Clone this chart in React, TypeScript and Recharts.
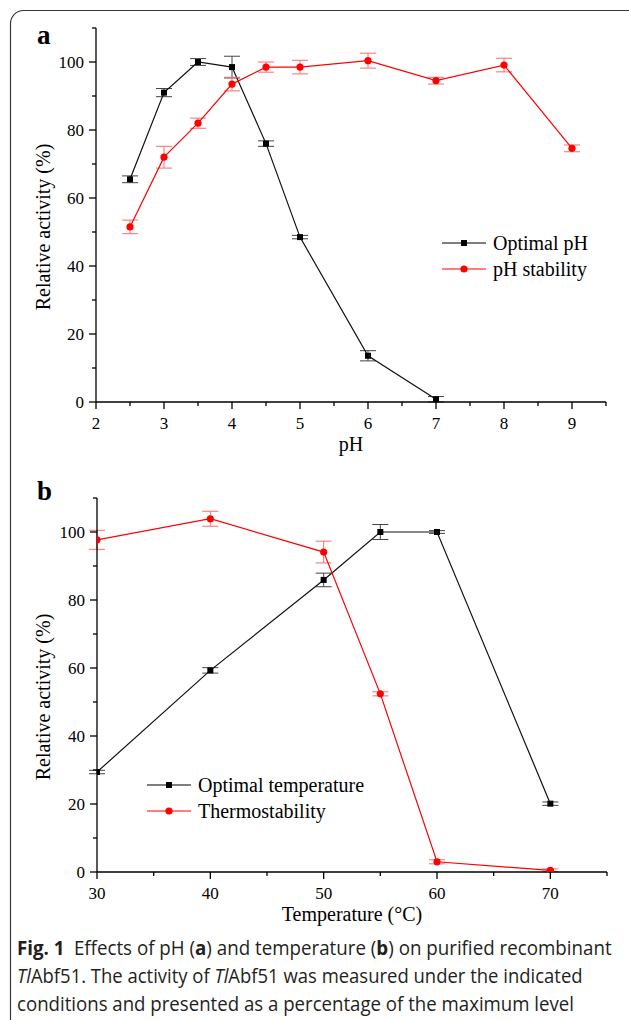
import React, { useLayoutEffect, useRef, useState } from "react";
import { LineChart, Line, XAxis, YAxis, ErrorBar, Legend } from "recharts";

// panel a: pH
const phOptimalX = [2.5, 3, 3.5, 4, 4.5, 5, 6, 7];
const phOptimalY = [65.5, 91, 100, 98.5, 76, 48.5, 13.6, 0.8];
const phOptimalErr = [1, 1.2, 1, 3.2, 0.8, 0.5, 1.5, 0.8];

const phStabX = [2.5, 3, 3.5, 4, 4.5, 5, 6, 7, 8, 9];
const phStabY = [51.5, 72, 82, 93.5, 98.5, 98.5, 100.4, 94.5, 99.1, 74.6];
const phStabErr = [2, 3.2, 1.5, 2, 1.5, 2, 2.2, 1, 2, 1];

const phTicks = [2, 2.5, 3, 3.5, 4, 4.5, 5, 5.5, 6, 6.5, 7, 7.5, 8, 8.5, 9, 9.5];
const phLabels = [2, 3, 4, 5, 6, 7, 8, 9];

// panel b: temperature
const tempOptimalX = [30, 40, 50, 55, 60, 70];
const tempOptimalY = [29.4, 59.3, 85.9, 100, 100, 20.1];
const tempOptimalErr = [0.5, 0.8, 2, 2.2, 0.4, 0.5];

const thermoX = [30, 40, 50, 55, 60, 70];
const thermoY = [97.7, 103.9, 94.1, 52.4, 3.0, 0.5];
const thermoErr = [2.8, 2.2, 3.2, 0.6, 0.6, 0.4];

const tempTicks = [30, 35, 40, 45, 50, 55, 60, 65, 70, 75];
const tempLabels = [30, 40, 50, 60, 70];

const yTicks = [0, 10, 20, 30, 40, 50, 60, 70, 80, 90, 100, 110];
const yLabels = [0, 20, 40, 60, 80, 100];

const SERIF = "'Liberation Serif', 'Times New Roman', serif";
const SANS = "'Open Sans', 'Noto Sans', sans-serif";
const RED = "#ff0000";

const serifStyle = (size: number) => ({ fontFamily: SERIF, fontSize: size });

const toRows = (xs: number[], ys: number[], errs: number[]) =>
  xs.map((x, i) => ({ x, y: ys[i], err: errs[i] }));

const XTick = (props: any, labels: number[]) => {
  const { x, y, payload } = props;
  const major = labels.includes(payload.value);
  return (
    <g key={payload.value}>
      <line x1={x} y1={y} x2={x} y2={y + (major ? 7 : 4)} stroke="#000" strokeWidth={1.3} />
      {major && (
        <text x={x} y={y + 27} textAnchor="middle" style={serifStyle(17)} fill="#000">
          {payload.value}
        </text>
      )}
    </g>
  );
};

const YTick = (props: any) => {
  const { x, y, payload } = props;
  const major = yLabels.includes(payload.value);
  return (
    <g key={payload.value}>
      <line x1={x} y1={y} x2={x - (major ? 7 : 4)} y2={y} stroke="#000" strokeWidth={1.3} />
      {major && (
        <text x={x - 12} y={y + 6} textAnchor="end" style={serifStyle(17)} fill="#000">
          {payload.value}
        </text>
      )}
    </g>
  );
};

const squareDot = (p: any) => (
  <rect key={p.index} x={p.cx - 3} y={p.cy - 3} width={6} height={6} fill="#000" />
);
const circleDot = (p: any) => <circle key={p.index} cx={p.cx} cy={p.cy} r={3.6} fill={RED} />;

const LegendBox = ({ names }: { names: string[] }) => (
  <svg width={230} height={54}>
    {names.map((n, i) => {
      const cy = 13 + i * 26;
      const color = i === 0 ? "#000" : RED;
      return (
        <g key={n}>
          <line x1={0} y1={cy} x2={44} y2={cy} stroke={color} strokeWidth={1.2} />
          {i === 0 ? (
            <rect x={19} y={cy - 3} width={6} height={6} fill="#000" />
          ) : (
            <circle cx={22} cy={cy} r={3.6} fill={RED} />
          )}
          <text x={51} y={cy + 7} style={serifStyle(20)} fill="#000">
            {n}
          </text>
        </g>
      );
    })}
  </svg>
);

const yLabel = {
  content: ({ viewBox }: any) => {
    const cy = viewBox.y + viewBox.height / 2 + 12;
    return (
      <text
        x={50}
        y={cy}
        transform={`rotate(-90 50 ${cy})`}
        textAnchor="middle"
        style={serifStyle(20)}
        fill="#000"
      >
        Relative activity (%)
      </text>
    );
  },
};

const xLabel = (text: string) => ({
  content: ({ viewBox }: any) => (
    <text
      x={viewBox.x + viewBox.width / 2}
      y={viewBox.y + 49}
      textAnchor="middle"
      style={serifStyle(20)}
      fill="#000"
    >
      {text}
    </text>
  ),
});

function Panel({
  top,
  left,
  xDomain,
  xTicks,
  xLabels,
  xTitle,
  blackRows,
  redRows,
  names,
  legendPos,
}: any) {
  return (
    <div style={{ position: "absolute", left: 0, top }}>
      <LineChart
        width={629}
        height={460}
        margin={{ top: 28, right: 629 - 606 - (left - 96), left: left - 60, bottom: 28 }}
      >
        <XAxis
          type="number"
          dataKey="x"
          domain={xDomain}
          ticks={xTicks}
          interval={0}
          tickSize={0}
          tickMargin={0}
          tickLine={false}
          allowDataOverflow
          height={30}
          axisLine={{ stroke: "#000", strokeWidth: 1.3 }}
          tick={(p: any) => XTick(p, xLabels)}
          label={xLabel(xTitle)}
        />
        <YAxis
          type="number"
          domain={[0, 110]}
          ticks={yTicks}
          interval={0}
          tickSize={0}
          tickMargin={0}
          tickLine={false}
          allowDataOverflow
          width={60}
          axisLine={{ stroke: "#000", strokeWidth: 1.3 }}
          tick={YTick}
          label={yLabel}
        />
        <Line
          data={blackRows}
          dataKey="y"
          name={names[0]}
          type="linear"
          stroke="#111"
          strokeWidth={1.2}
          dot={squareDot}
          activeDot={false}
          isAnimationActive={false}
        >
          <ErrorBar dataKey="err" width={8} stroke="#444" strokeWidth={1} direction="y" isAnimationActive={false} />
        </Line>
        <Line
          data={redRows}
          dataKey="y"
          name={names[1]}
          type="linear"
          stroke={RED}
          strokeWidth={1.2}
          dot={circleDot}
          activeDot={false}
          isAnimationActive={false}
        >
          <ErrorBar dataKey="err" width={8} stroke="#ff6b6b" strokeWidth={1} direction="y" isAnimationActive={false} />
        </Line>
        <Legend
          layout="vertical"
          align="center"
          verticalAlign="middle"
          content={() => <LegendBox names={names} />}
          wrapperStyle={{ left: legendPos[0], top: legendPos[1], width: 230, height: 54 }}
        />
      </LineChart>
    </div>
  );
}

// one caption line, squeezed horizontally to the width it has in the figure
function CaptionLine({ top, width, children }: any) {
  const ref = useRef<HTMLDivElement>(null);
  const [scale, setScale] = useState(1);
  useLayoutEffect(() => {
    if (ref.current) {
      const w = ref.current.scrollWidth;
      if (w > 0) setScale(width / w);
    }
  }, [width]);
  return (
    <div
      ref={ref}
      style={{
        position: "absolute",
        left: 17,
        top,
        whiteSpace: "nowrap",
        fontFamily: SANS,
        fontSize: 20,
        lineHeight: "26px",
        color: "#231f20",
        transform: `scaleX(${scale})`,
        transformOrigin: "0 0",
      }}
    >
      {children}
    </div>
  );
}

export default function App() {
  return (
    <div
      style={{
        position: "absolute",
        left: 0,
        top: 0,
        width: 629,
        height: 1020,
        overflow: "hidden",
        background: "#fff",
      }}
    >
      <svg width={629} height={1020} style={{ position: "absolute", left: 0, top: 0 }}>
        <rect x={10.5} y={10.5} width={640} height={1040} rx={13} fill="none" stroke="#3a3a3a" strokeWidth={1.2} />
        <text x={37} y={44} fontWeight="bold" style={serifStyle(27)} fill="#000">
          a
        </text>
        <text x={37} y={500} fontWeight="bold" style={serifStyle(27)} fill="#000">
          b
        </text>
      </svg>
      <Panel
        top={0}
        left={96}
        xDomain={[2, 9.5]}
        xTicks={phTicks}
        xLabels={phLabels}
        xTitle="pH"
        blackRows={toRows(phOptimalX, phOptimalY, phOptimalErr)}
        redRows={toRows(phStabX, phStabY, phStabErr)}
        names={["Optimal pH", "pH stability"]}
        legendPos={[442, 230]}
      />
      <Panel
        top={470}
        left={97}
        xDomain={[30, 75]}
        xTicks={tempTicks}
        xLabels={tempLabels}
        xTitle={"Temperature (\u00b0C)"}
        blackRows={toRows(tempOptimalX, tempOptimalY, tempOptimalErr)}
        redRows={toRows(thermoX, thermoY, thermoErr)}
        names={["Optimal temperature", "Thermostability"]}
        legendPos={[147, 302]}
      />
      <CaptionLine top={935} width={595}>
        <b>Fig. 1</b>
        {"\u2002Effects of pH ("}
        <b>a</b>
        {") and temperature ("}
        <b>b</b>
        {") on purified recombinant"}
      </CaptionLine>
      <CaptionLine top={963} width={566}>
        <i>Tl</i>
        {"Abf51. The activity of "}
        <i>Tl</i>
        {"Abf51 was measured under the indicated"}
      </CaptionLine>
      <CaptionLine top={991} width={557}>
        conditions and presented as a percentage of the maximum level
      </CaptionLine>
    </div>
  );
}
